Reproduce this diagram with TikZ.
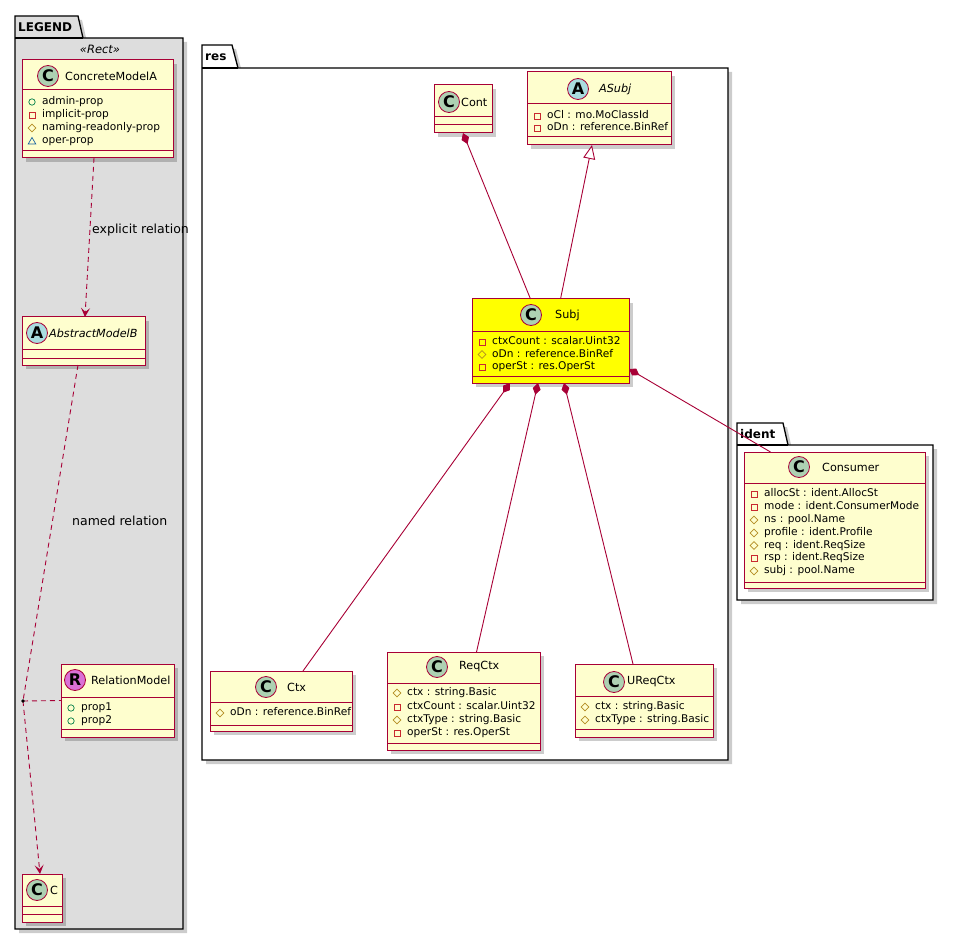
\documentclass[tikz,border=0pt]{standalone}
\usepackage{fontspec}
\setmainfont{DejaVu Sans}
\usetikzlibrary{arrows.meta}
\definecolor{umlred}{HTML}{A80036}
\definecolor{classbg}{HTML}{FEFECE}
\definecolor{subjbg}{HTML}{FFFF00}
\definecolor{legendbg}{HTML}{DDDDDD}
\definecolor{spotC}{HTML}{ADD1B2}
\definecolor{spotA}{HTML}{A9DCDF}
\definecolor{spotR}{HTML}{DA70D6}
\definecolor{pubc}{HTML}{038048}
\definecolor{privc}{HTML}{C82930}
\definecolor{protc}{HTML}{B38D22}
\definecolor{pkgc}{HTML}{1963A0}
\newcounter{memc}
\tikzset{
  box/.style={draw=umlred, line width=1pt, inner sep=0pt, outer sep=0pt, rectangle},
  sepl/.style={draw=umlred, line width=1pt},
  shadowc/.style={fill=black, opacity=0.2},
  spot/.style={circle, draw=umlred, line width=0.8pt, minimum size=21pt, inner sep=0pt, font=\fontsize{16}{16}\selectfont\bfseries},
  cname/.style={anchor=west, inner sep=0pt, font=\fontsize{11.2}{13}\selectfont},
  mem/.style={anchor=west, inner sep=0pt, font=\fontsize{10.6}{12}\selectfont, text height=7.5pt, text depth=2pt},
  edge/.style={draw=umlred, line width=0.9pt},
  dashpat/.style={dash pattern=on 5pt off 4pt},
  lbl/.style={anchor=west, inner sep=0pt, font=\fontsize{12.5}{14}\selectfont},
  pkgline/.style={draw=black, line width=1.3pt},
  pkglbl/.style={anchor=west, inner sep=0pt, font=\fontsize{12}{14}\selectfont\bfseries},
  headarrow/.style={-{Stealth[length=9pt,width=9pt,inset=4pt]}},
}
\newcommand\umlclass[8]{%
  \fill[shadowc] (#2+4,#3+4) rectangle (#4+4,#5+4);
  \node[box, fill=#6, minimum width=#4-#2, minimum height=#5-#3] (#1) at ({(#2+#4)/2},{(#3+#5)/2}) {};
  \draw[sepl] (#2,#7) -- (#4,#7);
  \draw[sepl] (#2,#8) -- (#4,#8);
}
\newcommand\vispub[2]{\draw[pubc, line width=0.7pt] (#1,#2) circle (3.2);}
\newcommand\vispriv[2]{\draw[privc, line width=0.7pt] (#1-3,#2-3) rectangle (#1+3,#2+3);}
\newcommand\visprot[2]{\draw[protc, line width=0.7pt] (#1-3.8,#2) -- (#1,#2-3.8) -- (#1+3.8,#2) -- (#1,#2+3.8) -- cycle;}
\newcommand\vispkg[2]{\draw[pkgc, line width=0.7pt] (#1-3.8,#2+3) -- (#1+3.8,#2+3) -- (#1,#2-3.5) -- cycle;}
\newcommand\mem[4]{\csname vis#3\endcsname{#1+10}{#2}\stepcounter{memc}\edef\memname{m\arabic{memc}}\node[mem] (\memname) at (#1+20,#2) {#4};}
\begin{document}
\begin{tikzpicture}[x=1pt,y=-1pt]
\useasboundingbox (0,0) rectangle (953,941);
\fill[white] (0,0) rectangle (953,941);
% ---------- packages ----------
% LEGEND
\fill[shadowc] (19,20) -- (82,20) -- (87,42) -- (187,42) -- (187,933) -- (19,933) -- cycle;
\draw[pkgline, fill=legendbg] (15,16) -- (78,16) -- (83,38) -- (183,38) -- (183,929) -- (15,929) -- cycle;
\draw[pkgline] (15,38) -- (83,38);
\node[pkglbl] (legendlbl) at (18,27) {LEGEND};
\node[inner sep=0pt, font=\fontsize{11.5}{13}\selectfont\itshape] (rectst) at (100,49) {«Rect»};
% res
\fill[shadowc] (206,49) -- (236,49) -- (242,72) -- (732,72) -- (732,764) -- (206,764) -- cycle;
\draw[pkgline, fill=white] (202,45) -- (232,45) -- (238,68) -- (728,68) -- (728,760) -- (202,760) -- cycle;
\draw[pkgline] (202,68) -- (238,68);
\node[pkglbl] (reslbl) at (205,57) {res};
% ident
\fill[shadowc] (741,427) -- (787,427) -- (792,449) -- (937,449) -- (937,604) -- (741,604) -- cycle;
\draw[pkgline, fill=white] (737,423) -- (783,423) -- (788,445) -- (933,445) -- (933,600) -- (737,600) -- cycle;
\draw[pkgline] (737,445) -- (788,445);
\node[pkglbl] (identlbl) at (740,434) {ident};
% ---------- classes ----------
\umlclass{cma}{22}{60}{173}{158}{classbg}{90}{151}
\node[spot, fill=spotC] (cmaS) at (48,76) {C};
\node[cname] (cmaN) at (65,76) {ConcreteModelA};
\mem{22}{102}{pub}{admin-prop}
\mem{22}{115}{priv}{implicit-prop}
\mem{22}{128}{prot}{naming-readonly-prop}
\mem{22}{141}{pkg}{oper-prop}

\umlclass{amb}{22}{317}{145}{365}{classbg}{349}{358}
\node[spot, fill=spotA] (ambS) at (37,333) {A};
\node[cname, font=\fontsize{11.2}{13}\selectfont\itshape] (ambN) at (49,333) {AbstractModelB};

\umlclass{relm}{61}{664}{174}{737}{classbg}{697}{729}
\node[spot, fill=spotR] (relmS) at (75,680) {R};
\node[cname] (relmN) at (91,680) {RelationModel};
\mem{61}{708}{pub}{prop1}
\mem{61}{721}{pub}{prop2}

\umlclass{cc}{22}{874}{62}{922}{classbg}{906}{914}
\node[spot, fill=spotC] (ccS) at (37,890) {C};
\node[cname] (ccN) at (50,890) {C};

\umlclass{cont}{434}{85}{492}{133}{classbg}{117}{125}
\node[spot, fill=spotC] (contS) at (449,102) {C};
\node[cname] (contN) at (461,102) {Cont};

\umlclass{asubj}{527}{72}{671}{145}{classbg}{104}{137}
\node[spot, fill=spotA] (asubjS) at (578,89) {A};
\node[cname, font=\fontsize{11.2}{13}\selectfont\itshape] (asubjN) at (599,89) {ASubj};
\mem{527}{116}{priv}{oCl : mo.MoClassId}
\mem{527}{128}{priv}{oDn : reference.BinRef}

\umlclass{subj}{472}{299}{629}{383}{subjbg}{331}{376}
\node[spot, fill=spotC] (subjS) at (531,315) {C};
\node[cname] (subjN) at (555,315) {Subj};
\mem{472}{342}{priv}{ctxCount : scalar.Uint32}
\mem{472}{354.5}{prot}{oDn : reference.BinRef}
\mem{472}{367}{priv}{operSt : res.OperSt}

\umlclass{cons}{744}{452}{925}{588}{classbg}{483}{582}
\node[spot, fill=spotC] (consS) at (799,467) {C};
\node[cname] (consN) at (822,467) {Consumer};
\mem{744}{494}{priv}{allocSt : ident.AllocSt}
\mem{744}{507}{priv}{mode : ident.ConsumerMode}
\mem{744}{520}{prot}{ns : pool.Name}
\mem{744}{533}{prot}{profile : ident.Profile}
\mem{744}{545.5}{prot}{req : ident.ReqSize}
\mem{744}{558}{priv}{rsp : ident.ReqSize}
\mem{744}{571}{prot}{subj : pool.Name}

\umlclass{ctx}{210}{671}{352}{731}{classbg}{702}{725}
\node[spot, fill=spotC] (ctxS) at (266,687) {C};
\node[cname] (ctxN) at (287,687) {Ctx};
\mem{210}{713}{prot}{oDn : reference.BinRef}

\umlclass{reqctx}{387}{652}{540}{750}{classbg}{683}{743}
\node[spot, fill=spotC] (reqctxS) at (437,667) {C};
\node[cname] (reqctxN) at (459,667) {ReqCtx};
\mem{387}{693}{prot}{ctx : string.Basic}
\mem{387}{707}{priv}{ctxCount : scalar.Uint32}
\mem{387}{720}{prot}{ctxType : string.Basic}
\mem{387}{733}{priv}{operSt : res.OperSt}

\umlclass{ureq}{575}{664}{713}{737}{classbg}{696}{729}
\node[spot, fill=spotC] (ureqS) at (614,682) {C};
\node[cname] (ureqN) at (627,682) {UReqCtx};
\mem{575}{707}{prot}{ctx : string.Basic}
\mem{575}{720}{prot}{ctxType : string.Basic}

% ---------- connectors ----------
\draw[edge, {Diamond[length=12pt,width=8pt]}-] (cont.south) -- ([xshift=-20pt]subj.north);
\draw[edge, {Triangle[length=14pt,width=12pt,fill=white]}-] ([xshift=-7pt]asubj.south) -- ([xshift=10pt]subj.north);
\draw[edge, {Diamond[length=12pt,width=8pt]}-] ([xshift=-40.5pt]subj.south) -- ([xshift=22pt]ctx.north);
\draw[edge, {Diamond[length=12pt,width=8pt]}-] ([xshift=-12.5pt]subj.south) -- ([xshift=13pt]reqctx.north);
\draw[edge, {Diamond[length=12pt,width=8pt]}-] ([xshift=13.5pt]subj.south) -- ([xshift=-11pt]ureq.north);
\draw[edge, {Diamond[length=12pt,width=8pt]}-] ([yshift=-28pt]subj.east) -- ([xshift=-64pt]cons.north);
% legend connectors
\draw[edge, dashpat, headarrow] ([xshift=-3.5pt]cma.south) -- ([xshift=1.5pt]amb.north);
\node[lbl] (explbl) at (92,230) {explicit relation};
\coordinate (rdot) at (23,701);
\draw[edge, dashpat] ([xshift=-5.5pt]amb.south) -- (rdot);
\draw[edge, dashpat, headarrow] (rdot) -- ([xshift=-2pt]cc.north);
\draw[edge, dashpat] (rdot) -- (relm.west);
\fill[black] (rdot) circle (1.8);
\node[lbl] (namedlbl) at (72,521) {named relation};
\end{tikzpicture}
\end{document}
